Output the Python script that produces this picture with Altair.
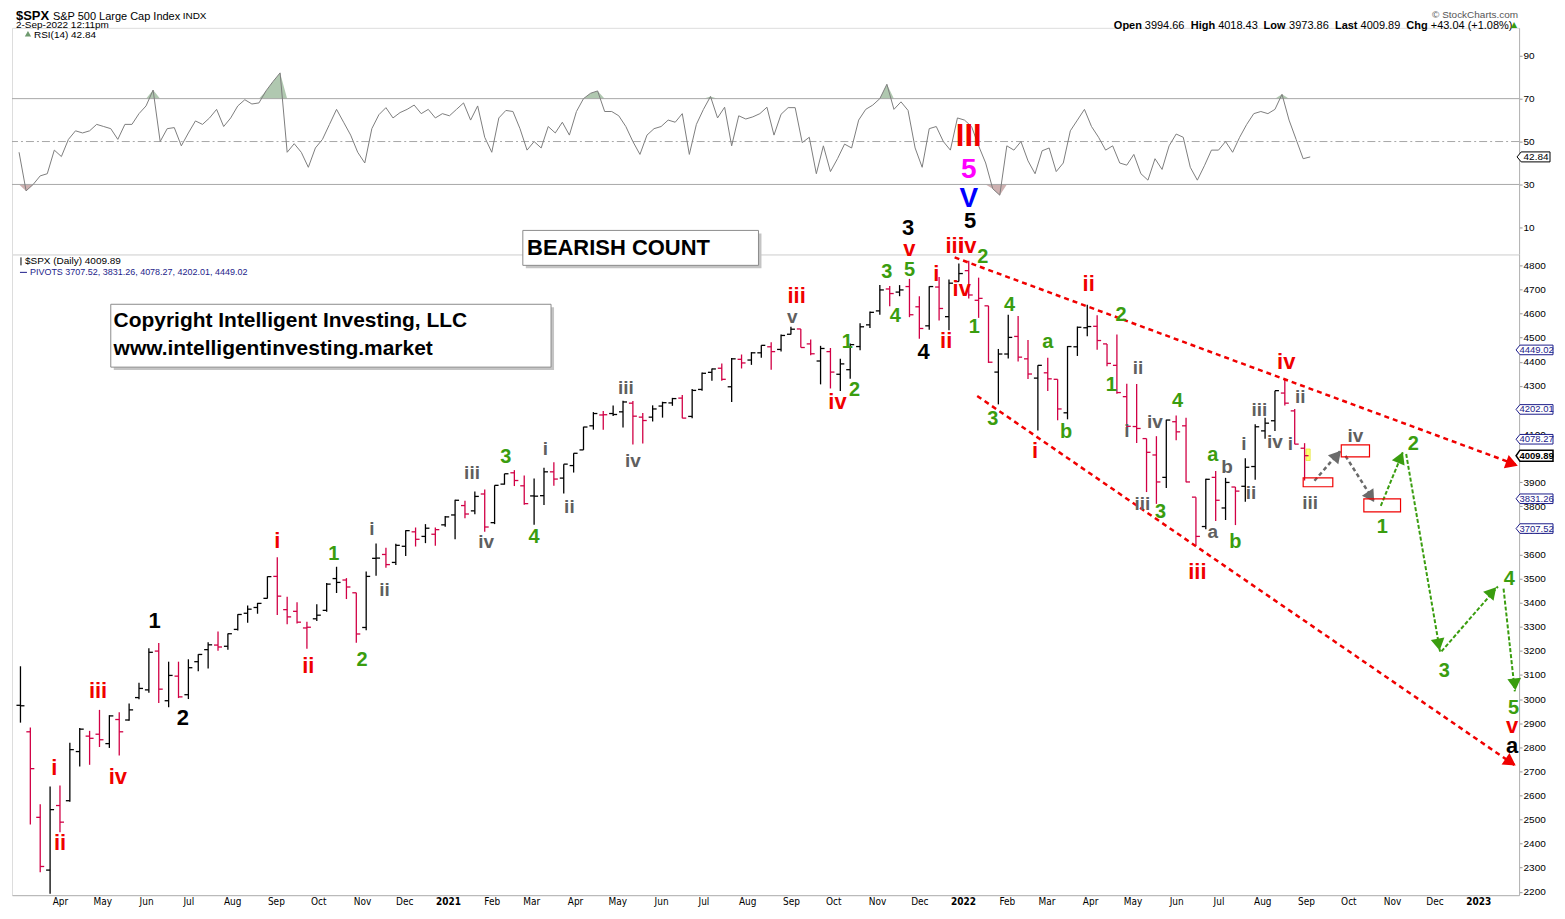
import altair as alt
import pandas as pd

FONT = "Liberation Sans"
NARROW = "Liberation Sans Narrow, DejaVu Sans Condensed, Liberation Sans, sans-serif"

# ---------------- data ----------------
week_start = "2020-03-04"   # mid-week date of first weekly bar
prev_close = 2954           # close before the first bar

opens = [2974, 2864, 2509, 2290, 2558, 2578, 2782, 2846, 2854, 2815, 2915, 2913, 3006, 3038, 3199, 2993, 3095, 3018,
         3155, 3205, 3224, 3219, 3289, 3356, 3380, 3418, 3509, 3371, 3364, 3295, 3333, 3368, 3500, 3494, 3441, 3297,
         3584, 3600, 3567, 3634, 3694, 3675, 3684, 3723,
         3764, 3803, 3781, 3851, 3732, 3892, 3939, 3885, 3843, 3844, 3943, 3917, 3969, 4034, 4134, 4179, 4185, 4192,
         4228, 4170, 4170, 4216, 4229, 4249, 4173, 4285, 4356, 4373, 4296, 4410, 4407, 4437, 4462, 4451, 4514, 4536,
         4474, 4403, 4442, 4348, 4367, 4463, 4553, 4611, 4702, 4689, 4712, 4628, 4549, 4710, 4587, 4733,
         4778, 4655, 4632, 4357, 4432, 4505, 4412, 4332, 4354, 4327, 4188, 4462, 4541, 4547, 4474, 4385, 4255, 4131,
         4081, 4013, 3920, 4151, 4134, 3838, 3716, 3920, 3793, 3880, 3883, 3965, 4113, 4155, 4270, 4196, 4041]
highs = [3136, 2882, 2563, 2637, 2641, 2819, 2880, 2868, 2955, 2933, 2945, 2981, 3068, 3211, 3233, 3155, 3155, 3165,
         3186, 3236, 3280, 3272, 3352, 3388, 3399, 3509, 3588, 3425, 3402, 3321, 3393, 3482, 3549, 3502, 3441, 3529,
         3646, 3628, 3645, 3701, 3712, 3726, 3712, 3760,
         3827, 3823, 3861, 3870, 3887, 3935, 3950, 3928, 3915, 3960, 3983, 3975, 4020, 4130, 4191, 4195, 4218, 4238,
         4237, 4187, 4219, 4234, 4250, 4262, 4287, 4355, 4372, 4393, 4415, 4430, 4440, 4468, 4481, 4513, 4545, 4536,
         4492, 4466, 4457, 4412, 4476, 4560, 4608, 4718, 4714, 4718, 4744, 4672, 4713, 4752, 4741, 4808,
         4819, 4749, 4632, 4453, 4595, 4590, 4490, 4385, 4416, 4327, 4465, 4546, 4637, 4593, 4474, 4513, 4309, 4308,
         4081, 4091, 4159, 4177, 4168, 3838, 3914, 3946, 3918, 3880, 3999, 4140, 4167, 4280, 4325, 4204, 4062]
lows = [2902, 2479, 2281, 2192, 2447, 2574, 2720, 2727, 2801, 2797, 2766, 2910, 2999, 3026, 2984, 2966, 3004, 3000,
        3115, 3127, 3200, 3205, 3284, 3317, 3354, 3417, 3349, 3310, 3313, 3209, 3324, 3362, 3440, 3415, 3234, 3285,
        3512, 3545, 3556, 3594, 3633, 3647, 3636, 3715,
        3663, 3750, 3767, 3694, 3726, 3890, 3884, 3806, 3723, 3805, 3885, 3853, 3940, 4034, 4118, 4118, 4175, 4127,
        4056, 4061, 4152, 4168, 4217, 4165, 4165, 4280, 4321, 4321, 4233, 4372, 4387, 4416, 4367, 4442, 4513, 4459,
        4427, 4306, 4289, 4279, 4329, 4448, 4540, 4595, 4630, 4672, 4585, 4495, 4533, 4571, 4531, 4733,
        4662, 4582, 4395, 4223, 4413, 4401, 4328, 4115, 4279, 4157, 4161, 4424, 4506, 4450, 4381, 4267, 4124, 4063,
        3859, 3810, 3876, 4074, 3900, 3637, 3705, 3739, 3743, 3722, 3819, 3910, 4080, 4112, 4218, 4057, 3907]
closes = [2972, 2711, 2305, 2541, 2489, 2790, 2875, 2837, 2831, 2930, 2864, 2955, 3044, 3194, 3041, 3098, 3009, 3130,
          3185, 3225, 3216, 3271, 3351, 3373, 3397, 3508, 3427, 3341, 3319, 3298, 3348, 3477, 3484, 3465, 3270, 3509,
          3585, 3558, 3638, 3699, 3663, 3709, 3703, 3756,
          3825, 3768, 3841, 3714, 3887, 3935, 3907, 3811, 3842, 3943, 3913, 3975, 4020, 4129, 4185, 4180, 4181, 4233,
          4174, 4156, 4204, 4230, 4247, 4166, 4281, 4352, 4370, 4327, 4412, 4395, 4437, 4468, 4442, 4509, 4535, 4459,
          4433, 4455, 4357, 4391, 4471, 4545, 4605, 4698, 4683, 4698, 4595, 4538, 4712, 4621, 4726, 4766,
          4677, 4663, 4398, 4432, 4501, 4419, 4349, 4385, 4329, 4204, 4463, 4543, 4546, 4488, 4393, 4272, 4132, 4123,
          4024, 3901, 4158, 4109, 3901, 3675, 3912, 3825, 3899, 3863, 3962, 4130, 4145, 4280, 4228, 4058, 4010]

rsi_start = "2020-03-03"
rsi_step_days = 5
rsi_values = [45, 27, 30, 34, 35, 46, 43, 51, 55, 54,
              55, 58, 57, 56, 51, 58, 58, 63, 66.6, 74,
              50, 56, 56.5, 48, 54, 59.6, 58, 61, 65, 57,
              61, 66.6, 69.5, 67.5, 68, 73.6, 78, 82, 45, 49,
              45, 38, 47, 51, 58, 65, 59, 53, 45, 40,
              56, 62.5, 65.8, 61, 63.5, 65, 67, 63, 65, 61,
              63, 62, 65, 68, 60, 66.6, 52, 45, 61, 64.5,
              64, 56, 46, 50, 47, 57, 54, 59, 53, 64,
              70, 72.5, 73.6, 64, 64, 62, 57, 50, 44, 53,
              56, 57, 60, 59, 63, 44, 58, 65, 71, 61,
              66, 48, 62, 60.5, 61.5, 63, 66, 53, 62.7, 65.8,
              65.8, 49.5, 52, 35, 48, 36, 42, 48.8, 47, 60,
              65, 67, 70, 76.7, 65, 68.5, 64.5, 47, 38, 56,
              57, 50, 46, 61, 60, 57, 48, 40, 28, 25,
              48, 46, 50, 41, 35, 45.7, 47, 36, 40, 55,
              60, 65, 57, 52, 46, 48, 40, 39, 44, 35,
              32, 42, 37, 48, 53.5, 52, 38, 32, 38.7, 46,
              46, 50, 45, 52, 58, 63, 64, 63, 65, 72,
              60, 51, 42, 42.84]

pivot_levels = [3707.52, 3831.26, 4078.27, 4202.01, 4449.02]
last_price = 4009.89
rsi_last = 42.84

x_domain = ["2020-02-27", "2023-01-30"]
price_domain = [2186, 4845.5]
rsi_domain = [-2.6, 103]
price_ticks = list(range(2200, 4900, 100))
rsi_ticks = [10, 30, 50, 70, 90]

# wave labels: (text, date, price)
black_labels = [("1", "2020-06-07", 3322), ("2", "2020-06-27", 2920), ("3", "2021-11-23", 4957),
                ("4", "2021-12-04", 4440), ("5", "2022-01-06", 4982), ("a", "2023-01-25", 2804)]
red_labels = [("i", "2020-03-28", 2713), ("ii", "2020-04-01", 2402), ("iii", "2020-04-28", 3032),
              ("iv", "2020-05-12", 2676), ("i", "2020-09-02", 3657), ("ii", "2020-09-24", 3135),
              ("iii", "2021-09-05", 4672), ("iv", "2021-10-04", 4233), ("v", "2021-11-24", 4866),
              ("i", "2021-12-13", 4763), ("ii", "2021-12-20", 4485), ("iii", "2021-12-26", 4879),
              ("iv", "2022-01-04", 4879), ("iv", "2021-12-31", 4701), ("ii", "2022-03-31", 4721),
              ("i", "2022-02-21", 4030), ("iii", "2022-06-16", 3529), ("iv", "2022-08-18", 4398),
              ("v", "2023-01-25", 2887)]
green_labels = [("1", "2020-10-12", 3603), ("2", "2020-11-01", 3160), ("3", "2021-02-11", 4005),
                ("4", "2021-03-03", 3674), ("1", "2021-10-11", 4481), ("2", "2021-10-16", 4282),
                ("3", "2021-11-08", 4771), ("4", "2021-11-14", 4589), ("5", "2021-11-24", 4779),
                ("2", "2022-01-15", 4833), ("1", "2022-01-09", 4543), ("4", "2022-02-03", 4634),
                ("3", "2022-01-22", 4162), ("a", "2022-03-02", 4481), ("b", "2022-03-15", 4109),
                ("2", "2022-04-23", 4593), ("1", "2022-04-16", 4303), ("4", "2022-06-02", 4237),
                ("3", "2022-05-21", 3777), ("a", "2022-06-27", 4013), ("b", "2022-07-13", 3653),
                ("1", "2022-10-25", 3715), ("2", "2022-11-16", 4059), ("3", "2022-12-08", 3115),
                ("4", "2023-01-23", 3500), ("5", "2023-01-26", 2961)]
gray_labels = [("i", "2020-11-08", 3707), ("ii", "2020-11-17", 3454), ("iii", "2021-01-18", 3939),
               ("iv", "2021-01-28", 3653), ("i", "2021-03-11", 4038), ("ii", "2021-03-28", 3798),
               ("iii", "2021-05-07", 4291), ("iv", "2021-05-12", 3988), ("v", "2021-09-02", 4585),
               ("ii", "2022-05-05", 4374), ("i", "2022-04-27", 4113), ("iv", "2022-05-17", 4150),
               ("iii", "2022-05-08", 3810), ("b", "2022-07-07", 3964), ("a", "2022-06-27", 3694),
               ("i", "2022-07-19", 4059), ("ii", "2022-07-24", 3856), ("iii", "2022-07-30", 4200),
               ("iv", "2022-08-10", 4067), ("ii", "2022-08-28", 4253), ("i", "2022-08-21", 4059),
               ("iii", "2022-09-04", 3814), ("iv", "2022-10-06", 4092)]
big_labels = [("III", "2022-01-05", 5334, "#f00000", 31), ("5", "2022-01-05", 5197, "#ff00ff", 28),
              ("V", "2022-01-05", 5077, "#0000ff", 28)]

# trend lines (red dotted) and projected paths: (date1, price1, date2, price2)
trend_lines = [("2021-12-26", 4833, "2023-01-30", 3968), ("2022-01-11", 4258, "2023-01-28", 2721)]
trend_heads = [("2023-01-25", 3977, 110), ("2023-01-24", 2738, 124)]
gray_paths = [("2022-09-07", 3906, "2022-09-26", 4034), ("2022-09-29", 4009, "2022-10-20", 3814)]
gray_heads = [("2022-09-23", 4012, 41), ("2022-10-17", 3839, 147)]
green_paths = [("2022-10-24", 3802, "2022-11-09", 4030), ("2022-11-11", 4017, "2022-12-05", 3197),
               ("2022-12-06", 3198, "2023-01-15", 3467), ("2023-01-19", 3458, "2023-01-27", 3032)]
green_heads = [("2022-11-07", 4003, 23), ("2022-12-04", 3226, 170), ("2023-01-11", 3445, 41),
               ("2023-01-27", 3061, 174)]
target_boxes = [("2022-08-30", 3881, "2022-09-20", 3918), ("2022-09-26", 4005, "2022-10-16", 4055),
                ("2022-10-12", 3777, "2022-11-07", 3831)]
note_boxes = [("2021-02-23", 4800, "2021-08-09", 4945), ("2020-05-07", 4377.6, "2021-03-15", 4638.5)]
note_texts = [("BEARISH COUNT", "2021-02-26", 4874, 22),
              ("Copyright Intelligent Investing, LLC", "2020-05-09", 4568, 21),
              ("www.intelligentinvesting.market", "2020-05-09", 4452, 21)]
highlight = [("2022-09-01", 3990, "2022-09-04", 4038)]

# ---------------- frames ----------------
dates = pd.date_range(week_start, periods=len(closes), freq="7D").strftime("%Y-%m-%d")
prevs = [prev_close] + closes[:-1]
bars = pd.DataFrame({"date": dates, "open": opens, "high": highs, "low": lows, "close": closes,
                     "col": ["#d10045" if c < p else "#000000" for c, p in zip(closes, prevs)]})

rsi_dates = pd.date_range(rsi_start, periods=len(rsi_values), freq=f"{rsi_step_days}D").strftime("%Y-%m-%d")
rsi_df = pd.DataFrame({"date": rsi_dates, "rsi": rsi_values})

rows = []
for grp, col, sz in [(black_labels, "#000000", 22), (red_labels, "#f00000", 22),
                     (green_labels, "#3a9d0f", 20), (gray_labels, "#5f5f5f", 19)]:
    for t, d, p in grp:
        rows.append({"text": t, "date": d, "price": p, "color": col, "size": sz})
for t, d, p, col, sz in big_labels:
    rows.append({"text": t, "date": d, "price": p, "color": col, "size": sz})
labels = pd.DataFrame(rows)


def seg_df(segs):
    return pd.DataFrame(segs, columns=["d1", "p1", "d2", "p2"])


def head_df(h):
    return pd.DataFrame(h, columns=["date", "price", "angle"])


def dt(s):
    y, m, d = map(int, s.split("-"))
    return alt.DateTime(year=y, month=m, date=d, utc=True)


xs = alt.Scale(type="utc", domain=[dt(x_domain[0]), dt(x_domain[1])])
ys = alt.Scale(domain=price_domain, zero=False, nice=False)
rs = alt.Scale(domain=rsi_domain, zero=False, nice=False)

month_vals = [dt(t.strftime("%Y-%m-%d")) for t in pd.date_range("2020-04-01", "2023-01-01", freq="MS")]

GRID = "#b4b4b4"
x_axis = alt.Axis(values=month_vals, title=None, grid=False, labelOverlap=False, labelFlush=False,
                  labelExpr="utcFormat(datum.value, utcmonth(datum.value) == 0 ? '%Y' : '%b')",
                  labelFontWeight={"condition": {"test": "utcmonth(datum.value) == 0", "value": "bold"},
                                   "value": "normal"},
                  labelFont=NARROW, labelFontSize=10, labelColor="#000000", tickSize=0, labelPadding=1,
                  domainColor=GRID)
y_axis = alt.Axis(orient="right", values=price_ticks, format="d", title=None, grid=False, labelFontSize=10,
                  labelFont=FONT, labelColor="#000000", tickSize=3, labelPadding=1,
                  domainColor=GRID, tickColor="#9a9a9a", labelOverlap=False)
r_axis = alt.Axis(orient="right", values=rsi_ticks, format="d", title=None, grid=False, labelFontSize=10,
                  labelFont=FONT, labelColor="#000000", tickSize=3, labelPadding=1,
                  domainColor=GRID, tickColor="#9a9a9a")


def X(sh):
    return alt.X(sh, scale=xs, axis=x_axis)


def Y(sh):
    return alt.Y(sh, scale=ys, axis=y_axis)


def RX(sh):
    return alt.X(sh, scale=xs, axis=None)


def RY(sh):
    return alt.Y(sh, scale=rs, axis=r_axis)


def txt(t, x, y, size=11, weight="normal", color="#000000", align="left", baseline="top", font=FONT):
    return alt.Chart(pd.DataFrame({"t": [t]})).mark_text(
        font=font, fontSize=size, fontWeight=weight, color=color, align=align, baseline=baseline
    ).encode(text="t:N", x=alt.value(x), y=alt.value(y))


# ---------------- RSI panel ----------------
rsi_hi = alt.Chart(rsi_df).transform_calculate(top="max(datum.rsi, 70)", base="70").mark_area(
    color="#a7c2a7", opacity=0.9).encode(x=RX("date:T"), y=RY("top:Q"), y2="base:Q")
rsi_lo = alt.Chart(rsi_df).transform_calculate(bot="min(datum.rsi, 30)", base="30").mark_area(
    color="#c9a9a9", opacity=0.9).encode(x=RX("date:T"), y=RY("bot:Q"), y2="base:Q")
rsi_lvls = alt.Chart(pd.DataFrame({"lvl": [70, 30]})).mark_rule(color="#a8a8a8", strokeWidth=1).encode(
    y=RY("lvl:Q"))
rsi_mid = alt.Chart(pd.DataFrame({"lvl": [50]})).mark_rule(color="#a8a8a8", strokeWidth=1,
                                                         strokeDash=[8, 3, 2, 3]).encode(y=RY("lvl:Q"))
rsi_line = alt.Chart(rsi_df).mark_line(color="#7d7d7d", strokeWidth=1).encode(
    x=RX("date:T"), y=RY("rsi:Q"))

box_path_small = "M -1 0 L -0.75 -0.303 L 1 -0.303 L 1 0.303 L -0.75 0.303 Z"
rsi_box = alt.Chart(pd.DataFrame({"v": [rsi_last]})).mark_point(
    shape=box_path_small, size=1089, filled=True, fill="white", stroke="#000000", strokeWidth=1,
    opacity=1).encode(x=alt.value(1524.5), y=RY("v:Q"))
rsi_box_t = alt.Chart(pd.DataFrame({"v": [rsi_last]})).mark_text(
    font=FONT, fontSize=10, color="#000000", align="center", baseline="middle").encode(
    x=alt.value(1527), y=RY("v:Q"), text=alt.Text("v:Q", format=".2f"))

hdr = [
    txt("$SPX", 4, -18, 13, "bold"),
    txt("S&P 500 Large Cap Index", 41, -17, 11),
    txt("INDX", 171, -17, 10),
    txt("2-Sep-2022 12:11pm", 4, -8, 10),
    txt("\u00a9 StockCharts.com", 1509, -18, 10, color="#555555", align="right"),
    txt("Open", 1104, -8, 11, "bold"), txt("3994.66", 1135, -8, 11),
    txt("High", 1181, -8, 11, "bold"), txt("4018.43", 1208.5, -8, 11),
    txt("Low", 1254, -8, 11, "bold"), txt("3973.86", 1279.6, -8, 11),
    txt("Last", 1325.5, -8, 11, "bold"), txt("4009.89", 1351.2, -8, 11),
    txt("Chg", 1397, -8, 11, "bold"), txt("+43.04 (+1.08%)", 1421.5, -8, 11),
    txt("\u25b2", 1502, -7, 8, color="#3a9d0f", font="DejaVu Sans"),
    txt("RSI(14) 42.84", 22, 7, 10, baseline="middle"),
]
rsi_icon = alt.Chart(pd.DataFrame({"a": [1]})).mark_point(
    shape="triangle-up", size=40, filled=True, color="#6f9a6f", opacity=1).encode(
    x=alt.value(16), y=alt.value(6))

rsi_panel = alt.layer(rsi_hi, rsi_lo, rsi_lvls, rsi_mid, rsi_line, rsi_box, rsi_box_t, rsi_icon,
                      *hdr).properties(width=1510, height=227)

# ---------------- price panel ----------------
hl_df = pd.DataFrame(highlight, columns=["d1", "p1", "d2", "p2"])
hl_rect = alt.Chart(hl_df).mark_rect(fill="#ffff70", stroke="#d8d800", strokeWidth=0.5).encode(
    x=X("d1:T"), x2="d2:T", y=Y("p1:Q"), y2="p2:Q")

bar_hl = alt.Chart(bars).mark_rule(strokeWidth=1.3).encode(
    x=X("date:T"), y=Y("low:Q"), y2="high:Q", color=alt.Color("col:N", scale=None))
bar_open = alt.Chart(bars).mark_rule(strokeWidth=1.3, xOffset=-4, x2Offset=0).encode(
    x=X("date:T"), x2="date:T", y=Y("open:Q"), color=alt.Color("col:N", scale=None))
bar_close = alt.Chart(bars).mark_rule(strokeWidth=1.3, xOffset=0, x2Offset=4).encode(
    x=X("date:T"), x2="date:T", y=Y("close:Q"), color=alt.Color("col:N", scale=None))


def seg_layer(segs, color, width, dash):
    return alt.Chart(seg_df(segs)).mark_rule(color=color, strokeWidth=width, strokeDash=dash).encode(
        x=X("d1:T"), x2="d2:T", y=Y("p1:Q"), y2="p2:Q")


def head_layer(h, color, size):
    return alt.Chart(head_df(h)).mark_point(shape="triangle-up", filled=True, color=color, size=size,
                                            opacity=1).encode(
        x=X("date:T"), y=Y("price:Q"), angle=alt.Angle("angle:Q", scale=None))


trend = seg_layer(trend_lines, "#f00000", 2.5, [5, 4])
trend_h = head_layer(trend_heads, "#f00000", 200)
gpath = seg_layer(gray_paths, "#6a6a6a", 2.5, [4, 3])
gpath_h = head_layer(gray_heads, "#6a6a6a", 190)
grpath = seg_layer(green_paths, "#3a9d0f", 2, [4, 2])
grpath_h = head_layer(green_heads, "#3a9d0f", 190)

tboxes = alt.Chart(seg_df(target_boxes)).mark_rect(fill="white", fillOpacity=0, stroke="#f00000",
                                                    strokeWidth=1.2).encode(
    x=X("d1:T"), x2="d2:T", y=Y("p1:Q"), y2="p2:Q")

nb = seg_df(note_boxes)
nshadow = alt.Chart(nb).mark_rect(fill="#c4c4c4", xOffset=3, x2Offset=3, yOffset=3, y2Offset=3).encode(
    x=X("d1:T"), x2="d2:T", y=Y("p1:Q"), y2="p2:Q")
nbox = alt.Chart(nb).mark_rect(fill="white", stroke="#8c8c8c", strokeWidth=1).encode(
    x=X("d1:T"), x2="d2:T", y=Y("p1:Q"), y2="p2:Q")
ntext = alt.Chart(pd.DataFrame(note_texts, columns=["text", "date", "price", "size"])).mark_text(
    font=FONT, fontWeight="bold", color="#000000", align="left", baseline="middle").encode(
    x=X("date:T"), y=Y("price:Q"), text="text:N", size=alt.Size("size:Q", scale=None))

wave = alt.Chart(labels).mark_text(font=FONT, fontWeight="bold", align="center", baseline="middle").encode(
    x=X("date:T"), y=Y("price:Q"), text="text:N", color=alt.Color("color:N", scale=None),
    size=alt.Size("size:Q", scale=None))

box_path = "M -1 0 L -0.79 -0.26 L 1 -0.26 L 1 0.26 L -0.79 0.26 Z"
piv_df = pd.DataFrame({"level": pivot_levels})
piv_box = alt.Chart(piv_df).mark_point(shape=box_path, size=1369, filled=True, fill="white",
                                       stroke="#1c1c8a", strokeWidth=1, opacity=1).encode(
    x=alt.value(1525.5), y=Y("level:Q"))
piv_txt = alt.Chart(piv_df).mark_text(font=FONT, fontSize=9.5, color="#1c1c8a", align="center",
                                      baseline="middle").encode(
    x=alt.value(1527.5), y=Y("level:Q"), text=alt.Text("level:Q", format=".2f"))
last_df = pd.DataFrame({"level": [last_price]})
last_box = alt.Chart(last_df).mark_point(shape="M -1 0 L -0.79 -0.3 L 1 -0.3 L 1 0.3 L -0.79 0.3 Z",
                                         size=1369, filled=True, fill="white", stroke="#000000",
                                         strokeWidth=1.5, opacity=1).encode(
    x=alt.value(1525.5), y=Y("level:Q"))
last_txt = alt.Chart(last_df).mark_text(font=FONT, fontSize=9.5, fontWeight="bold", color="#000000",
                                        align="center", baseline="middle").encode(
    x=alt.value(1527.5), y=Y("level:Q"), text=alt.Text("level:Q", format=".2f"))

pivot_str = "PIVOTS " + ", ".join(f"{v:.2f}" for v in pivot_levels)
p_hdr = [
    txt("$SPX (Daily) 4009.89", 13, 7, 10, baseline="middle"),
    txt(pivot_str, 18, 18, 9, color="#1c1c8a", baseline="middle"),
]
p_icon = alt.Chart(pd.DataFrame({"a": [1]})).mark_rule(color="#1c1c8a", strokeWidth=1).encode(
    x=alt.value(8), x2=alt.value(15), y=alt.value(18))
p_icon2 = alt.Chart(pd.DataFrame({"a": [1]})).mark_rule(color="#000000", strokeWidth=1).encode(
    x=alt.value(9), y=alt.value(3), y2=alt.value(11))

price_panel = alt.layer(hl_rect, bar_hl, bar_open, bar_close, trend, trend_h, gpath, gpath_h, grpath,
                        grpath_h, tboxes, nshadow, nbox, ntext, wave, piv_box, piv_txt, last_box, last_txt,
                        p_icon, p_icon2, *p_hdr).properties(width=1510, height=642)

chart = alt.vconcat(rsi_panel, price_panel, spacing=0).properties(
    bounds="flush", padding={"left": 3, "top": 0, "right": 0, "bottom": 0}
).configure_view(stroke=GRID, strokeWidth=1).configure(background="white")

chart.save("out.html", embed_options={"renderer": "svg", "actions": False})
